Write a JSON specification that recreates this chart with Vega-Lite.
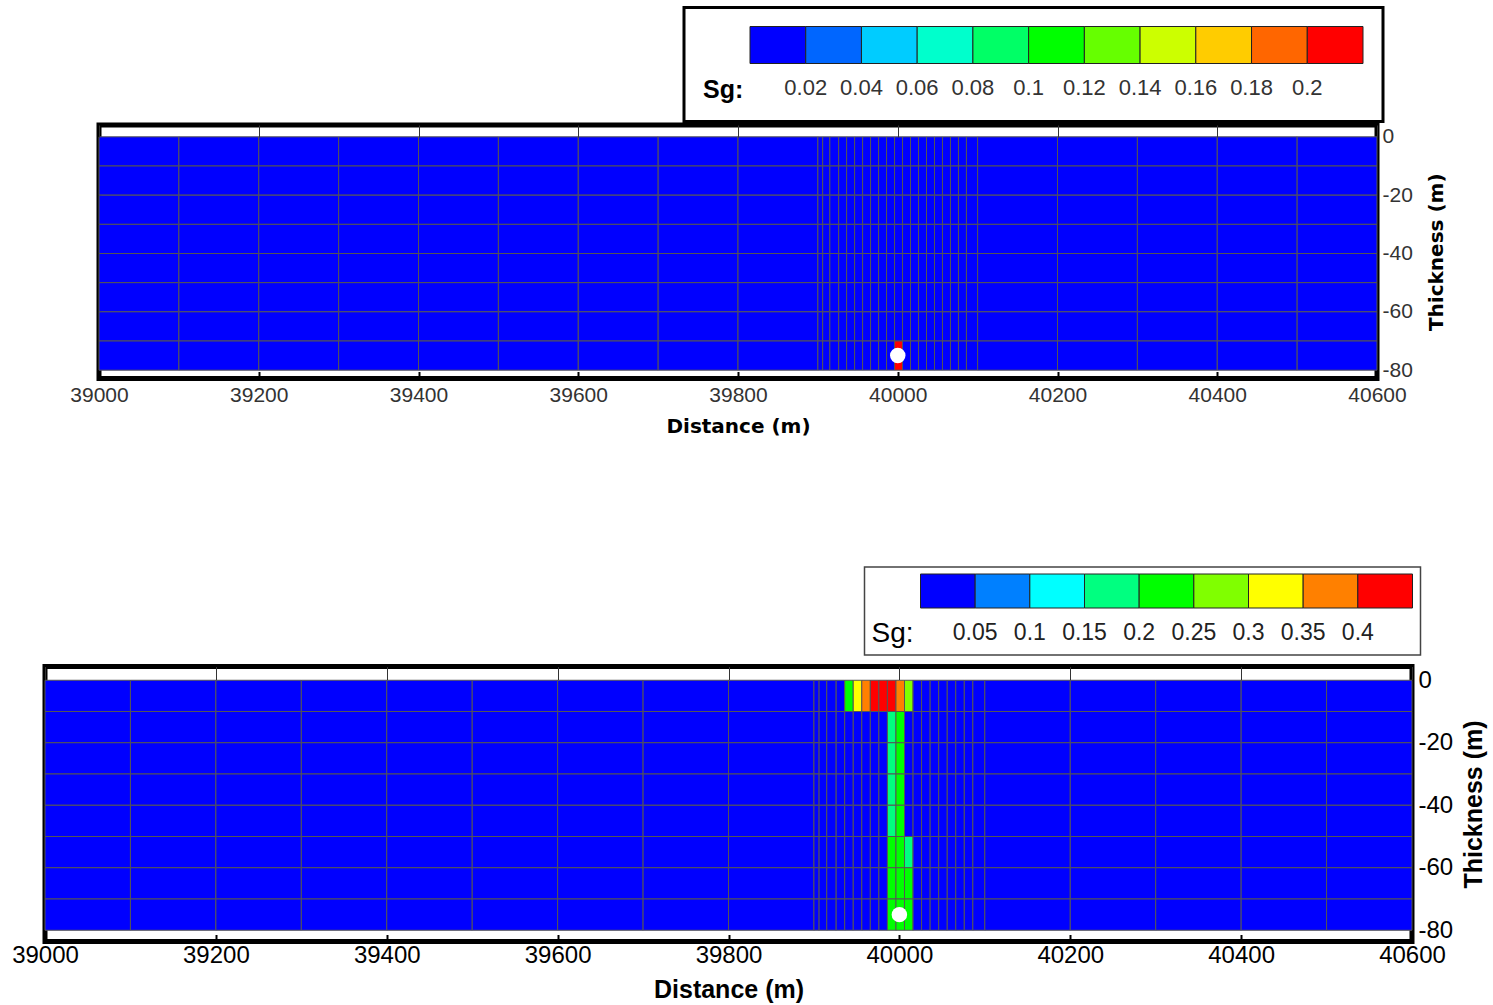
{
  "$schema": "https://vega.github.io/schema/vega-lite/v6.json",
  "padding": {"left": 9, "top": 6, "right": 5, "bottom": 5},
  "config": {"view": {"stroke": null}, "axis": {"grid": false}, "font": "Liberation Sans"},
  "datasets": {
    "well": [{"x": 40000, "z": -75}],
    "cells": [
{"x0":39000,"x1":39100,"z1":0,"z0":-10,"a":0,"b":0},{"x0":39100,"x1":39200,"z1":0,"z0":-10,"a":0,"b":0},{"x0":39200,"x1":39300,"z1":0,"z0":-10,"a":0,"b":0},{"x0":39300,"x1":39400,"z1":0,"z0":-10,"a":0,"b":0},{"x0":39400,"x1":39500,"z1":0,"z0":-10,"a":0,"b":0},{"x0":39500,"x1":39600,"z1":0,"z0":-10,"a":0,"b":0},{"x0":39600,"x1":39700,"z1":0,"z0":-10,"a":0,"b":0},{"x0":39700,"x1":39800,"z1":0,"z0":-10,"a":0,"b":0},{"x0":39800,"x1":39900,"z1":0,"z0":-10,"a":0,"b":0},{"x0":39900,"x1":39906,"z1":0,"z0":-10,"a":0,"b":0},{"x0":39906,"x1":39915,"z1":0,"z0":-10,"a":0,"b":0},{"x0":39915,"x1":39926,"z1":0,"z0":-10,"a":0,"b":0},{"x0":39926,"x1":39936,"z1":0,"z0":-10,"a":0,"b":0},{"x0":39936,"x1":39946,"z1":0,"z0":-10,"a":0,"b":0.22},{"x0":39946,"x1":39956,"z1":0,"z0":-10,"a":0,"b":0.32},{"x0":39956,"x1":39966,"z1":0,"z0":-10,"a":0,"b":0.37},{"x0":39966,"x1":39976,"z1":0,"z0":-10,"a":0,"b":0.42},{"x0":39976,"x1":39986,"z1":0,"z0":-10,"a":0,"b":0.43},{"x0":39986,"x1":39996,"z1":0,"z0":-10,"a":0,"b":0.43},{"x0":39996,"x1":40006,"z1":0,"z0":-10,"a":0,"b":0.38},{"x0":40006,"x1":40016,"z1":0,"z0":-10,"a":0,"b":0.27},{"x0":40016,"x1":40026,"z1":0,"z0":-10,"a":0,"b":0},{"x0":40026,"x1":40036,"z1":0,"z0":-10,"a":0,"b":0},{"x0":40036,"x1":40046,"z1":0,"z0":-10,"a":0,"b":0},{"x0":40046,"x1":40056,"z1":0,"z0":-10,"a":0,"b":0},{"x0":40056,"x1":40066,"z1":0,"z0":-10,"a":0,"b":0},{"x0":40066,"x1":40076,"z1":0,"z0":-10,"a":0,"b":0},{"x0":40076,"x1":40086,"z1":0,"z0":-10,"a":0,"b":0},{"x0":40086,"x1":40100,"z1":0,"z0":-10,"a":0,"b":0},{"x0":40100,"x1":40200,"z1":0,"z0":-10,"a":0,"b":0},{"x0":40200,"x1":40300,"z1":0,"z0":-10,"a":0,"b":0},{"x0":40300,"x1":40400,"z1":0,"z0":-10,"a":0,"b":0},{"x0":40400,"x1":40500,"z1":0,"z0":-10,"a":0,"b":0},{"x0":40500,"x1":40600,"z1":0,"z0":-10,"a":0,"b":0},
{"x0":39000,"x1":39100,"z1":-10,"z0":-20,"a":0,"b":0},{"x0":39100,"x1":39200,"z1":-10,"z0":-20,"a":0,"b":0},{"x0":39200,"x1":39300,"z1":-10,"z0":-20,"a":0,"b":0},{"x0":39300,"x1":39400,"z1":-10,"z0":-20,"a":0,"b":0},{"x0":39400,"x1":39500,"z1":-10,"z0":-20,"a":0,"b":0},{"x0":39500,"x1":39600,"z1":-10,"z0":-20,"a":0,"b":0},{"x0":39600,"x1":39700,"z1":-10,"z0":-20,"a":0,"b":0},{"x0":39700,"x1":39800,"z1":-10,"z0":-20,"a":0,"b":0},{"x0":39800,"x1":39900,"z1":-10,"z0":-20,"a":0,"b":0},{"x0":39900,"x1":39906,"z1":-10,"z0":-20,"a":0,"b":0},{"x0":39906,"x1":39915,"z1":-10,"z0":-20,"a":0,"b":0},{"x0":39915,"x1":39926,"z1":-10,"z0":-20,"a":0,"b":0},{"x0":39926,"x1":39936,"z1":-10,"z0":-20,"a":0,"b":0},{"x0":39936,"x1":39946,"z1":-10,"z0":-20,"a":0,"b":0},{"x0":39946,"x1":39956,"z1":-10,"z0":-20,"a":0,"b":0},{"x0":39956,"x1":39966,"z1":-10,"z0":-20,"a":0,"b":0},{"x0":39966,"x1":39976,"z1":-10,"z0":-20,"a":0,"b":0},{"x0":39976,"x1":39986,"z1":-10,"z0":-20,"a":0,"b":0},{"x0":39986,"x1":39996,"z1":-10,"z0":-20,"a":0,"b":0.17},{"x0":39996,"x1":40006,"z1":-10,"z0":-20,"a":0,"b":0.22},{"x0":40006,"x1":40016,"z1":-10,"z0":-20,"a":0,"b":0},{"x0":40016,"x1":40026,"z1":-10,"z0":-20,"a":0,"b":0},{"x0":40026,"x1":40036,"z1":-10,"z0":-20,"a":0,"b":0},{"x0":40036,"x1":40046,"z1":-10,"z0":-20,"a":0,"b":0},{"x0":40046,"x1":40056,"z1":-10,"z0":-20,"a":0,"b":0},{"x0":40056,"x1":40066,"z1":-10,"z0":-20,"a":0,"b":0},{"x0":40066,"x1":40076,"z1":-10,"z0":-20,"a":0,"b":0},{"x0":40076,"x1":40086,"z1":-10,"z0":-20,"a":0,"b":0},{"x0":40086,"x1":40100,"z1":-10,"z0":-20,"a":0,"b":0},{"x0":40100,"x1":40200,"z1":-10,"z0":-20,"a":0,"b":0},{"x0":40200,"x1":40300,"z1":-10,"z0":-20,"a":0,"b":0},{"x0":40300,"x1":40400,"z1":-10,"z0":-20,"a":0,"b":0},{"x0":40400,"x1":40500,"z1":-10,"z0":-20,"a":0,"b":0},{"x0":40500,"x1":40600,"z1":-10,"z0":-20,"a":0,"b":0},
{"x0":39000,"x1":39100,"z1":-20,"z0":-30,"a":0,"b":0},{"x0":39100,"x1":39200,"z1":-20,"z0":-30,"a":0,"b":0},{"x0":39200,"x1":39300,"z1":-20,"z0":-30,"a":0,"b":0},{"x0":39300,"x1":39400,"z1":-20,"z0":-30,"a":0,"b":0},{"x0":39400,"x1":39500,"z1":-20,"z0":-30,"a":0,"b":0},{"x0":39500,"x1":39600,"z1":-20,"z0":-30,"a":0,"b":0},{"x0":39600,"x1":39700,"z1":-20,"z0":-30,"a":0,"b":0},{"x0":39700,"x1":39800,"z1":-20,"z0":-30,"a":0,"b":0},{"x0":39800,"x1":39900,"z1":-20,"z0":-30,"a":0,"b":0},{"x0":39900,"x1":39906,"z1":-20,"z0":-30,"a":0,"b":0},{"x0":39906,"x1":39915,"z1":-20,"z0":-30,"a":0,"b":0},{"x0":39915,"x1":39926,"z1":-20,"z0":-30,"a":0,"b":0},{"x0":39926,"x1":39936,"z1":-20,"z0":-30,"a":0,"b":0},{"x0":39936,"x1":39946,"z1":-20,"z0":-30,"a":0,"b":0},{"x0":39946,"x1":39956,"z1":-20,"z0":-30,"a":0,"b":0},{"x0":39956,"x1":39966,"z1":-20,"z0":-30,"a":0,"b":0},{"x0":39966,"x1":39976,"z1":-20,"z0":-30,"a":0,"b":0},{"x0":39976,"x1":39986,"z1":-20,"z0":-30,"a":0,"b":0},{"x0":39986,"x1":39996,"z1":-20,"z0":-30,"a":0,"b":0.17},{"x0":39996,"x1":40006,"z1":-20,"z0":-30,"a":0,"b":0.22},{"x0":40006,"x1":40016,"z1":-20,"z0":-30,"a":0,"b":0},{"x0":40016,"x1":40026,"z1":-20,"z0":-30,"a":0,"b":0},{"x0":40026,"x1":40036,"z1":-20,"z0":-30,"a":0,"b":0},{"x0":40036,"x1":40046,"z1":-20,"z0":-30,"a":0,"b":0},{"x0":40046,"x1":40056,"z1":-20,"z0":-30,"a":0,"b":0},{"x0":40056,"x1":40066,"z1":-20,"z0":-30,"a":0,"b":0},{"x0":40066,"x1":40076,"z1":-20,"z0":-30,"a":0,"b":0},{"x0":40076,"x1":40086,"z1":-20,"z0":-30,"a":0,"b":0},{"x0":40086,"x1":40100,"z1":-20,"z0":-30,"a":0,"b":0},{"x0":40100,"x1":40200,"z1":-20,"z0":-30,"a":0,"b":0},{"x0":40200,"x1":40300,"z1":-20,"z0":-30,"a":0,"b":0},{"x0":40300,"x1":40400,"z1":-20,"z0":-30,"a":0,"b":0},{"x0":40400,"x1":40500,"z1":-20,"z0":-30,"a":0,"b":0},{"x0":40500,"x1":40600,"z1":-20,"z0":-30,"a":0,"b":0},
{"x0":39000,"x1":39100,"z1":-30,"z0":-40,"a":0,"b":0},{"x0":39100,"x1":39200,"z1":-30,"z0":-40,"a":0,"b":0},{"x0":39200,"x1":39300,"z1":-30,"z0":-40,"a":0,"b":0},{"x0":39300,"x1":39400,"z1":-30,"z0":-40,"a":0,"b":0},{"x0":39400,"x1":39500,"z1":-30,"z0":-40,"a":0,"b":0},{"x0":39500,"x1":39600,"z1":-30,"z0":-40,"a":0,"b":0},{"x0":39600,"x1":39700,"z1":-30,"z0":-40,"a":0,"b":0},{"x0":39700,"x1":39800,"z1":-30,"z0":-40,"a":0,"b":0},{"x0":39800,"x1":39900,"z1":-30,"z0":-40,"a":0,"b":0},{"x0":39900,"x1":39906,"z1":-30,"z0":-40,"a":0,"b":0},{"x0":39906,"x1":39915,"z1":-30,"z0":-40,"a":0,"b":0},{"x0":39915,"x1":39926,"z1":-30,"z0":-40,"a":0,"b":0},{"x0":39926,"x1":39936,"z1":-30,"z0":-40,"a":0,"b":0},{"x0":39936,"x1":39946,"z1":-30,"z0":-40,"a":0,"b":0},{"x0":39946,"x1":39956,"z1":-30,"z0":-40,"a":0,"b":0},{"x0":39956,"x1":39966,"z1":-30,"z0":-40,"a":0,"b":0},{"x0":39966,"x1":39976,"z1":-30,"z0":-40,"a":0,"b":0},{"x0":39976,"x1":39986,"z1":-30,"z0":-40,"a":0,"b":0},{"x0":39986,"x1":39996,"z1":-30,"z0":-40,"a":0,"b":0.17},{"x0":39996,"x1":40006,"z1":-30,"z0":-40,"a":0,"b":0.22},{"x0":40006,"x1":40016,"z1":-30,"z0":-40,"a":0,"b":0},{"x0":40016,"x1":40026,"z1":-30,"z0":-40,"a":0,"b":0},{"x0":40026,"x1":40036,"z1":-30,"z0":-40,"a":0,"b":0},{"x0":40036,"x1":40046,"z1":-30,"z0":-40,"a":0,"b":0},{"x0":40046,"x1":40056,"z1":-30,"z0":-40,"a":0,"b":0},{"x0":40056,"x1":40066,"z1":-30,"z0":-40,"a":0,"b":0},{"x0":40066,"x1":40076,"z1":-30,"z0":-40,"a":0,"b":0},{"x0":40076,"x1":40086,"z1":-30,"z0":-40,"a":0,"b":0},{"x0":40086,"x1":40100,"z1":-30,"z0":-40,"a":0,"b":0},{"x0":40100,"x1":40200,"z1":-30,"z0":-40,"a":0,"b":0},{"x0":40200,"x1":40300,"z1":-30,"z0":-40,"a":0,"b":0},{"x0":40300,"x1":40400,"z1":-30,"z0":-40,"a":0,"b":0},{"x0":40400,"x1":40500,"z1":-30,"z0":-40,"a":0,"b":0},{"x0":40500,"x1":40600,"z1":-30,"z0":-40,"a":0,"b":0},
{"x0":39000,"x1":39100,"z1":-40,"z0":-50,"a":0,"b":0},{"x0":39100,"x1":39200,"z1":-40,"z0":-50,"a":0,"b":0},{"x0":39200,"x1":39300,"z1":-40,"z0":-50,"a":0,"b":0},{"x0":39300,"x1":39400,"z1":-40,"z0":-50,"a":0,"b":0},{"x0":39400,"x1":39500,"z1":-40,"z0":-50,"a":0,"b":0},{"x0":39500,"x1":39600,"z1":-40,"z0":-50,"a":0,"b":0},{"x0":39600,"x1":39700,"z1":-40,"z0":-50,"a":0,"b":0},{"x0":39700,"x1":39800,"z1":-40,"z0":-50,"a":0,"b":0},{"x0":39800,"x1":39900,"z1":-40,"z0":-50,"a":0,"b":0},{"x0":39900,"x1":39906,"z1":-40,"z0":-50,"a":0,"b":0},{"x0":39906,"x1":39915,"z1":-40,"z0":-50,"a":0,"b":0},{"x0":39915,"x1":39926,"z1":-40,"z0":-50,"a":0,"b":0},{"x0":39926,"x1":39936,"z1":-40,"z0":-50,"a":0,"b":0},{"x0":39936,"x1":39946,"z1":-40,"z0":-50,"a":0,"b":0},{"x0":39946,"x1":39956,"z1":-40,"z0":-50,"a":0,"b":0},{"x0":39956,"x1":39966,"z1":-40,"z0":-50,"a":0,"b":0},{"x0":39966,"x1":39976,"z1":-40,"z0":-50,"a":0,"b":0},{"x0":39976,"x1":39986,"z1":-40,"z0":-50,"a":0,"b":0},{"x0":39986,"x1":39996,"z1":-40,"z0":-50,"a":0,"b":0.17},{"x0":39996,"x1":40006,"z1":-40,"z0":-50,"a":0,"b":0.22},{"x0":40006,"x1":40016,"z1":-40,"z0":-50,"a":0,"b":0},{"x0":40016,"x1":40026,"z1":-40,"z0":-50,"a":0,"b":0},{"x0":40026,"x1":40036,"z1":-40,"z0":-50,"a":0,"b":0},{"x0":40036,"x1":40046,"z1":-40,"z0":-50,"a":0,"b":0},{"x0":40046,"x1":40056,"z1":-40,"z0":-50,"a":0,"b":0},{"x0":40056,"x1":40066,"z1":-40,"z0":-50,"a":0,"b":0},{"x0":40066,"x1":40076,"z1":-40,"z0":-50,"a":0,"b":0},{"x0":40076,"x1":40086,"z1":-40,"z0":-50,"a":0,"b":0},{"x0":40086,"x1":40100,"z1":-40,"z0":-50,"a":0,"b":0},{"x0":40100,"x1":40200,"z1":-40,"z0":-50,"a":0,"b":0},{"x0":40200,"x1":40300,"z1":-40,"z0":-50,"a":0,"b":0},{"x0":40300,"x1":40400,"z1":-40,"z0":-50,"a":0,"b":0},{"x0":40400,"x1":40500,"z1":-40,"z0":-50,"a":0,"b":0},{"x0":40500,"x1":40600,"z1":-40,"z0":-50,"a":0,"b":0},
{"x0":39000,"x1":39100,"z1":-50,"z0":-60,"a":0,"b":0},{"x0":39100,"x1":39200,"z1":-50,"z0":-60,"a":0,"b":0},{"x0":39200,"x1":39300,"z1":-50,"z0":-60,"a":0,"b":0},{"x0":39300,"x1":39400,"z1":-50,"z0":-60,"a":0,"b":0},{"x0":39400,"x1":39500,"z1":-50,"z0":-60,"a":0,"b":0},{"x0":39500,"x1":39600,"z1":-50,"z0":-60,"a":0,"b":0},{"x0":39600,"x1":39700,"z1":-50,"z0":-60,"a":0,"b":0},{"x0":39700,"x1":39800,"z1":-50,"z0":-60,"a":0,"b":0},{"x0":39800,"x1":39900,"z1":-50,"z0":-60,"a":0,"b":0},{"x0":39900,"x1":39906,"z1":-50,"z0":-60,"a":0,"b":0},{"x0":39906,"x1":39915,"z1":-50,"z0":-60,"a":0,"b":0},{"x0":39915,"x1":39926,"z1":-50,"z0":-60,"a":0,"b":0},{"x0":39926,"x1":39936,"z1":-50,"z0":-60,"a":0,"b":0},{"x0":39936,"x1":39946,"z1":-50,"z0":-60,"a":0,"b":0},{"x0":39946,"x1":39956,"z1":-50,"z0":-60,"a":0,"b":0},{"x0":39956,"x1":39966,"z1":-50,"z0":-60,"a":0,"b":0},{"x0":39966,"x1":39976,"z1":-50,"z0":-60,"a":0,"b":0},{"x0":39976,"x1":39986,"z1":-50,"z0":-60,"a":0,"b":0},{"x0":39986,"x1":39996,"z1":-50,"z0":-60,"a":0,"b":0.22},{"x0":39996,"x1":40006,"z1":-50,"z0":-60,"a":0,"b":0.23},{"x0":40006,"x1":40016,"z1":-50,"z0":-60,"a":0,"b":0.17},{"x0":40016,"x1":40026,"z1":-50,"z0":-60,"a":0,"b":0},{"x0":40026,"x1":40036,"z1":-50,"z0":-60,"a":0,"b":0},{"x0":40036,"x1":40046,"z1":-50,"z0":-60,"a":0,"b":0},{"x0":40046,"x1":40056,"z1":-50,"z0":-60,"a":0,"b":0},{"x0":40056,"x1":40066,"z1":-50,"z0":-60,"a":0,"b":0},{"x0":40066,"x1":40076,"z1":-50,"z0":-60,"a":0,"b":0},{"x0":40076,"x1":40086,"z1":-50,"z0":-60,"a":0,"b":0},{"x0":40086,"x1":40100,"z1":-50,"z0":-60,"a":0,"b":0},{"x0":40100,"x1":40200,"z1":-50,"z0":-60,"a":0,"b":0},{"x0":40200,"x1":40300,"z1":-50,"z0":-60,"a":0,"b":0},{"x0":40300,"x1":40400,"z1":-50,"z0":-60,"a":0,"b":0},{"x0":40400,"x1":40500,"z1":-50,"z0":-60,"a":0,"b":0},{"x0":40500,"x1":40600,"z1":-50,"z0":-60,"a":0,"b":0},
{"x0":39000,"x1":39100,"z1":-60,"z0":-70,"a":0,"b":0},{"x0":39100,"x1":39200,"z1":-60,"z0":-70,"a":0,"b":0},{"x0":39200,"x1":39300,"z1":-60,"z0":-70,"a":0,"b":0},{"x0":39300,"x1":39400,"z1":-60,"z0":-70,"a":0,"b":0},{"x0":39400,"x1":39500,"z1":-60,"z0":-70,"a":0,"b":0},{"x0":39500,"x1":39600,"z1":-60,"z0":-70,"a":0,"b":0},{"x0":39600,"x1":39700,"z1":-60,"z0":-70,"a":0,"b":0},{"x0":39700,"x1":39800,"z1":-60,"z0":-70,"a":0,"b":0},{"x0":39800,"x1":39900,"z1":-60,"z0":-70,"a":0,"b":0},{"x0":39900,"x1":39906,"z1":-60,"z0":-70,"a":0,"b":0},{"x0":39906,"x1":39915,"z1":-60,"z0":-70,"a":0,"b":0},{"x0":39915,"x1":39926,"z1":-60,"z0":-70,"a":0,"b":0},{"x0":39926,"x1":39936,"z1":-60,"z0":-70,"a":0,"b":0},{"x0":39936,"x1":39946,"z1":-60,"z0":-70,"a":0,"b":0},{"x0":39946,"x1":39956,"z1":-60,"z0":-70,"a":0,"b":0},{"x0":39956,"x1":39966,"z1":-60,"z0":-70,"a":0,"b":0},{"x0":39966,"x1":39976,"z1":-60,"z0":-70,"a":0,"b":0},{"x0":39976,"x1":39986,"z1":-60,"z0":-70,"a":0,"b":0},{"x0":39986,"x1":39996,"z1":-60,"z0":-70,"a":0,"b":0.22},{"x0":39996,"x1":40006,"z1":-60,"z0":-70,"a":0,"b":0.23},{"x0":40006,"x1":40016,"z1":-60,"z0":-70,"a":0,"b":0.21},{"x0":40016,"x1":40026,"z1":-60,"z0":-70,"a":0,"b":0},{"x0":40026,"x1":40036,"z1":-60,"z0":-70,"a":0,"b":0},{"x0":40036,"x1":40046,"z1":-60,"z0":-70,"a":0,"b":0},{"x0":40046,"x1":40056,"z1":-60,"z0":-70,"a":0,"b":0},{"x0":40056,"x1":40066,"z1":-60,"z0":-70,"a":0,"b":0},{"x0":40066,"x1":40076,"z1":-60,"z0":-70,"a":0,"b":0},{"x0":40076,"x1":40086,"z1":-60,"z0":-70,"a":0,"b":0},{"x0":40086,"x1":40100,"z1":-60,"z0":-70,"a":0,"b":0},{"x0":40100,"x1":40200,"z1":-60,"z0":-70,"a":0,"b":0},{"x0":40200,"x1":40300,"z1":-60,"z0":-70,"a":0,"b":0},{"x0":40300,"x1":40400,"z1":-60,"z0":-70,"a":0,"b":0},{"x0":40400,"x1":40500,"z1":-60,"z0":-70,"a":0,"b":0},{"x0":40500,"x1":40600,"z1":-60,"z0":-70,"a":0,"b":0},
{"x0":39000,"x1":39100,"z1":-70,"z0":-80,"a":0,"b":0},{"x0":39100,"x1":39200,"z1":-70,"z0":-80,"a":0,"b":0},{"x0":39200,"x1":39300,"z1":-70,"z0":-80,"a":0,"b":0},{"x0":39300,"x1":39400,"z1":-70,"z0":-80,"a":0,"b":0},{"x0":39400,"x1":39500,"z1":-70,"z0":-80,"a":0,"b":0},{"x0":39500,"x1":39600,"z1":-70,"z0":-80,"a":0,"b":0},{"x0":39600,"x1":39700,"z1":-70,"z0":-80,"a":0,"b":0},{"x0":39700,"x1":39800,"z1":-70,"z0":-80,"a":0,"b":0},{"x0":39800,"x1":39900,"z1":-70,"z0":-80,"a":0,"b":0},{"x0":39900,"x1":39906,"z1":-70,"z0":-80,"a":0,"b":0},{"x0":39906,"x1":39915,"z1":-70,"z0":-80,"a":0,"b":0},{"x0":39915,"x1":39926,"z1":-70,"z0":-80,"a":0,"b":0},{"x0":39926,"x1":39936,"z1":-70,"z0":-80,"a":0,"b":0},{"x0":39936,"x1":39946,"z1":-70,"z0":-80,"a":0,"b":0},{"x0":39946,"x1":39956,"z1":-70,"z0":-80,"a":0,"b":0},{"x0":39956,"x1":39966,"z1":-70,"z0":-80,"a":0,"b":0},{"x0":39966,"x1":39976,"z1":-70,"z0":-80,"a":0,"b":0},{"x0":39976,"x1":39986,"z1":-70,"z0":-80,"a":0,"b":0},{"x0":39986,"x1":39996,"z1":-70,"z0":-80,"a":0,"b":0.22},{"x0":39996,"x1":40006,"z1":-70,"z0":-80,"a":0.21,"b":0.23},{"x0":40006,"x1":40016,"z1":-70,"z0":-80,"a":0,"b":0.21},{"x0":40016,"x1":40026,"z1":-70,"z0":-80,"a":0,"b":0},{"x0":40026,"x1":40036,"z1":-70,"z0":-80,"a":0,"b":0},{"x0":40036,"x1":40046,"z1":-70,"z0":-80,"a":0,"b":0},{"x0":40046,"x1":40056,"z1":-70,"z0":-80,"a":0,"b":0},{"x0":40056,"x1":40066,"z1":-70,"z0":-80,"a":0,"b":0},{"x0":40066,"x1":40076,"z1":-70,"z0":-80,"a":0,"b":0},{"x0":40076,"x1":40086,"z1":-70,"z0":-80,"a":0,"b":0},{"x0":40086,"x1":40100,"z1":-70,"z0":-80,"a":0,"b":0},{"x0":40100,"x1":40200,"z1":-70,"z0":-80,"a":0,"b":0},{"x0":40200,"x1":40300,"z1":-70,"z0":-80,"a":0,"b":0},{"x0":40300,"x1":40400,"z1":-70,"z0":-80,"a":0,"b":0},{"x0":40400,"x1":40500,"z1":-70,"z0":-80,"a":0,"b":0},{"x0":40500,"x1":40600,"z1":-70,"z0":-80,"a":0,"b":0}
    ]
  },
  "spacing": 124.5,
  "resolve": {"scale": {"color": "independent"}, "legend": {"color": "independent"}},
  "vconcat": [
    {
      "spacing": 0,
      "hconcat": [
        {"width": 22, "height": 10, "data": {"values": []}, "mark": "point", "encoding": {}},
        {
          "width": 1278,
          "height": 253.5,
          "view": {"stroke": "black", "strokeWidth": 5},
          "resolve": {"axis": {"x": "independent", "y": "independent"}},
          "layer": [
            {
              "data": {"name": "cells"},
              "mark": {"type": "rect", "stroke": "#555555", "strokeWidth": 1},
              "encoding": {
                "x": {"field": "x0", "type": "quantitative",
                  "scale": {"domain": [39000, 40600], "nice": false, "zero": false},
                  "axis": {"orient": "bottom", "values": [39000,39050,39100,39150,39200,39250,39300,39350,39400,39450,39500,39550,39600,39650,39700,39750,39800,39850,39900,39950,40000,40050,40100,40150,40200,40250,40300,40350,40400,40450,40500,40550,40600],
                    "format": "d", "labelExpr": "datum.value % 200 === 0 ? datum.label : ''",
                    "tickSize": {"condition": {"test": "datum.value % 200 === 0", "value": -7}, "value": -3},
                    "tickWidth": {"condition": {"test": "datum.value % 200 === 0", "value": 2}, "value": 1},
                    "tickColor": "black", "domain": false, "labelPadding": 13, "labelFlush": false, "labelOverlap": false,
                    "labelFont": "Liberation Sans", "labelFontSize": 21, "labelColor": "#333333",
                    "title": "Distance (m)", "titleFont": "DejaVu Sans", "titleFontSize": 20, "titleFontWeight": "bold", "titleColor": "black", "titlePadding": 7, "zindex": 1}},
                "x2": {"field": "x1"},
                "y": {"field": "z1", "type": "quantitative",
                  "scale": {"domain": [-82.85, 4.05], "nice": false, "zero": false},
                  "axis": {"orient": "right", "values": [0, -20, -40, -60, -80], "ticks": false, "domain": false, "labelPadding": 5, "labelFlush": false,
                    "labelExpr": "datum.value < 0 ? '-' + format(-datum.value, 'd') : format(datum.value, 'd')",
                    "labelFont": "Liberation Sans", "labelFontSize": 21, "labelColor": "#333333",
                    "title": "Thickness (m)", "titleFont": "DejaVu Sans", "titleFontSize": 20, "titleFontWeight": "bold", "titleColor": "black", "titleAngle": 270, "titleBaseline": "top", "titlePadding": 14, "zindex": 1}},
                "y2": {"field": "z0"},
                "color": {"field": "a", "type": "quantitative",
                  "scale": {"type": "threshold", "domain": [0.02, 0.04, 0.06, 0.08, 0.1, 0.12, 0.14, 0.16, 0.18, 0.2],
                    "range": ["#0000ff", "#0066ff", "#00ccff", "#00ffcc", "#00ff66", "#00ff00", "#66ff00", "#ccff00", "#ffcc00", "#ff6600", "#ff0000"]},
                  "legend": {"type": "gradient", "direction": "horizontal", "orient": "none", "legendX": 639, "legendY": -117.5,
                    "title": "Sg:", "titleOrient": "left", "titleAnchor": "end", "titleBaseline": "top", "titlePadding": 6,
                    "titleFont": "Liberation Sans", "titleFontSize": 25, "titleFontWeight": "bold", "titleColor": "black",
                    "gradientLength": 613, "gradientThickness": 37, "gradientStrokeColor": "#222222", "gradientStrokeWidth": 1,
                    "labelFont": "Liberation Sans", "labelFontSize": 22, "labelColor": "#333333", "labelOffset": 14, "labelOverlap": false, "format": "~g",
                    "padding": 19, "strokeColor": "black", "fillColor": "white",
                    "encode": {"title": {"update": {"dy": {"value": 32}}}, "legend": {"update": {"stroke": {"value": "black"}, "strokeWidth": {"value": 3}}}}}}
              }
            },
            {
              "data": {"name": "well"},
              "mark": {"type": "point", "filled": true, "color": "white", "opacity": 1, "size": 240},
              "encoding": {
                "x": {"field": "x", "type": "quantitative",
                  "axis": {"orient": "top", "values": [39000,39200,39400,39600,39800,40000,40200,40400,40600], "labels": false, "domain": false, "tickSize": -12, "tickColor": "#333333", "tickWidth": 1, "title": null, "zindex": 1}},
                "y": {"field": "z", "type": "quantitative", "axis": null}
              }
            }
          ]
        }
      ]
    },
    {
      "width": 1367,
      "height": 275,
      "view": {"stroke": "black", "strokeWidth": 5},
      "resolve": {"axis": {"x": "independent", "y": "independent"}},
      "layer": [
        {
          "data": {"name": "cells"},
          "mark": {"type": "rect", "stroke": "#555555", "strokeWidth": 1},
          "encoding": {
            "x": {"field": "x0", "type": "quantitative",
              "scale": {"domain": [39000, 40600], "nice": false, "zero": false},
              "axis": {"orient": "bottom", "values": [39000,39050,39100,39150,39200,39250,39300,39350,39400,39450,39500,39550,39600,39650,39700,39750,39800,39850,39900,39950,40000,40050,40100,40150,40200,40250,40300,40350,40400,40450,40500,40550,40600],
                "format": "d", "labelExpr": "datum.value % 200 === 0 ? datum.label : ''",
                "tickSize": {"condition": {"test": "datum.value % 200 === 0", "value": -7}, "value": -3},
                "tickWidth": {"condition": {"test": "datum.value % 200 === 0", "value": 2}, "value": 1},
                "tickColor": "black", "domain": false, "labelPadding": 9, "labelFlush": false, "labelOverlap": false,
                "labelFont": "Liberation Sans", "labelFontSize": 24, "labelColor": "black",
                "title": "Distance (m)", "titleFont": "Liberation Sans", "titleFontSize": 25, "titleFontWeight": "bold", "titleColor": "black", "titlePadding": 6, "zindex": 1}},
            "x2": {"field": "x1"},
            "y": {"field": "z1", "type": "quantitative",
              "scale": {"domain": [-83.6, 4.4], "nice": false, "zero": false},
              "axis": {"orient": "right", "values": [0, -20, -40, -60, -80], "ticks": false, "domain": false, "labelPadding": 6, "labelFlush": false,
                "labelExpr": "datum.value < 0 ? '-' + format(-datum.value, 'd') : format(datum.value, 'd')",
                "labelFont": "Liberation Sans", "labelFontSize": 24, "labelColor": "black",
                "title": "Thickness (m)", "titleFont": "Liberation Sans", "titleFontSize": 25, "titleFontWeight": "bold", "titleColor": "black", "titleAngle": 270, "titleBaseline": "top", "titlePadding": 9, "zindex": 1}},
            "y2": {"field": "z0"},
            "color": {"field": "b", "type": "quantitative",
              "scale": {"type": "threshold", "domain": [0.05, 0.1, 0.15, 0.2, 0.25, 0.3, 0.35, 0.4],
                "range": ["#0000ff", "#0080ff", "#00ffff", "#00ff80", "#00ff00", "#80ff00", "#ffff00", "#ff8000", "#ff0000"]},
              "legend": {"type": "gradient", "direction": "horizontal", "orient": "none", "legendX": 819.5, "legendY": -99.5,
                "title": "Sg:", "titleOrient": "left", "titleAnchor": "end", "titleBaseline": "top", "titlePadding": 6,
                "titleFont": "Liberation Sans", "titleFontSize": 28, "titleFontWeight": "normal", "titleColor": "black",
                "gradientLength": 492, "gradientThickness": 34, "gradientStrokeColor": "#222222", "gradientStrokeWidth": 1,
                "labelFont": "Liberation Sans", "labelFontSize": 23, "labelColor": "#222222", "labelOffset": 14, "labelOverlap": false, "format": "~g",
                "padding": 7, "strokeColor": "#444444", "fillColor": "white",
                "encode": {"title": {"update": {"dy": {"value": 18}}}, "legend": {"update": {"stroke": {"value": "#444444"}, "strokeWidth": {"value": 1.5}}}}}}
          }
        },
        {
          "data": {"name": "well"},
          "mark": {"type": "point", "filled": true, "color": "white", "opacity": 1, "size": 240},
          "encoding": {
            "x": {"field": "x", "type": "quantitative",
              "axis": {"orient": "top", "values": [39000,39200,39400,39600,39800,40000,40200,40400,40600], "labels": false, "domain": false, "tickSize": -13, "tickColor": "#333333", "tickWidth": 1, "title": null, "zindex": 1}},
            "y": {"field": "z", "type": "quantitative", "axis": null}
          }
        }
      ]
    }
  ]
}
